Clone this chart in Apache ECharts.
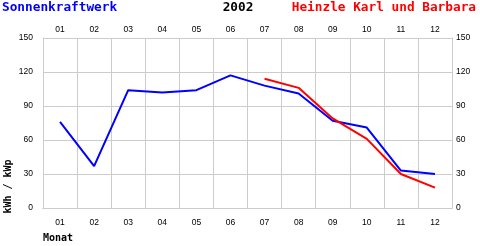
<!DOCTYPE html>
<html><head><meta charset="utf-8">
<script src="https://cdn.jsdelivr.net/npm/echarts@6/dist/echarts.min.js"></script>
<style>html,body{margin:0;padding:0;background:#fff}#c{width:480px;height:246px}</style>
</head><body><div id="c"></div>
<script>
var months = ['01','02','03','04','05','06','07','08','09','10','11','12'];
var ertrag = [76, 37, 104, 102, 104, 117, 108, 101, 77, 71, 33, 30];
var soll = [null, null, null, null, null, null, 114, 106, 79, 61, 30, 18];
var yTicks = [0, 30, 60, 90, 120, 150];

var chart = echarts.init(document.getElementById('c'), null, {renderer:'canvas'});
var lab = {fontFamily:'Liberation Sans', fontSize:8.5, color:'#000'};
var gridGray = '#cccccc';
function yAx(pos){
  return {type:'value', position:pos, min:yTicks[0], max:yTicks[yTicks.length-1], interval:30,
    axisLine:{show:true, lineStyle:{color:gridGray}}, axisTick:{show:false},
    splitLine:{show:pos==='left', lineStyle:{color:gridGray, width:1}},
    axisLabel:Object.assign({margin:pos==='left'?10:4}, lab)};
}
function xAx(pos){
  return {type:'category', position:pos, data:months, boundaryGap:true,
    axisLine:{show:true, lineStyle:{color:gridGray}}, axisTick:{show:false},
    splitLine:{show:pos==='bottom', lineStyle:{color:gridGray, width:1}},
    axisLabel:Object.assign({margin:pos==='bottom'?10:4}, lab)};
}
chart.setOption({
  animation:false,
  grid:{left:43, right:28, top:38, bottom:38, containLabel:false},
  xAxis:[xAx('bottom'), xAx('top')],
  yAxis:[yAx('left'), yAx('right')],
  series:[
    {type:'line', data:ertrag, symbol:'none', lineStyle:{color:'#0000ff', width:2}, itemStyle:{color:'#0000ff'}},
    {type:'line', data:soll, symbol:'none', lineStyle:{color:'#ff0000', width:2}, itemStyle:{color:'#ff0000'}}
  ],
  graphic:[
    {type:'text', left:2, top:1, style:{text:'Sonnenkraftwerk', fill:'#0000ff', font:'bold 12.75px "DejaVu Sans Mono"'}},
    {type:'text', x:238, y:8, style:{text:'2002', fill:'#000', font:'bold 12.75px "DejaVu Sans Mono"', textAlign:'center', textVerticalAlign:'middle'}},
    {type:'text', right:4, top:1, style:{text:'Heinzle Karl und Barbara', fill:'#ff0000', font:'bold 12.75px "DejaVu Sans Mono"'}},
    {type:'text', left:43, top:233, style:{text:'Monat', fill:'#000', font:'bold 10px "DejaVu Sans Mono"'}},
    {type:'text', x:8.5, y:186.5, rotation:Math.PI/2, style:{text:'kWh / kWp', fill:'#000', font:'bold 10px "DejaVu Sans Mono"', textAlign:'center', textVerticalAlign:'middle'}}
  ]
});
</script></body></html>
